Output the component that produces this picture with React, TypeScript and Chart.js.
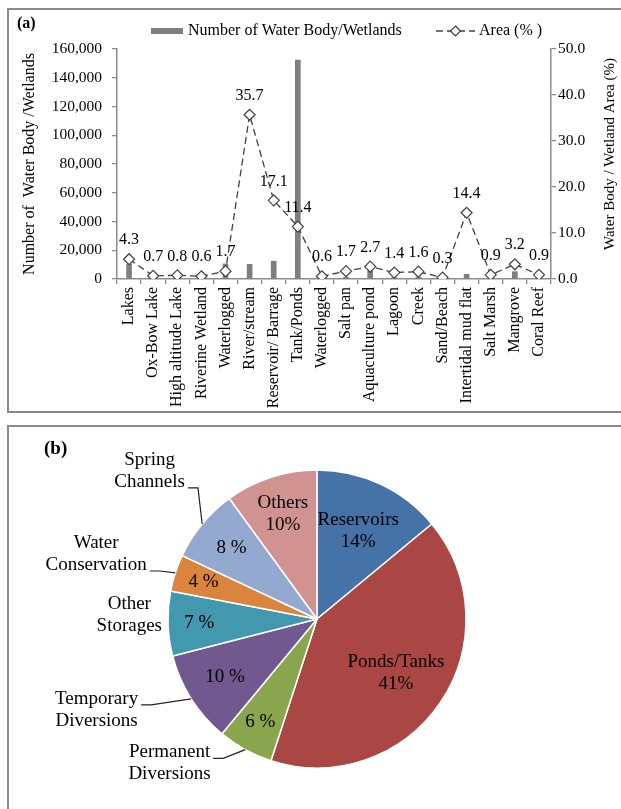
import React, { useEffect, useRef } from "react";
import { Chart, registerables } from "chart.js";

Chart.register(...registerables);

const FONT = '"Liberation Serif", "Times New Roman", serif';

// ---------- Panel (a) data ----------
const categories = [
  "Lakes",
  "Ox-Bow Lake",
  "High altitude Lake",
  "Riverine Wetland",
  "Waterlogged",
  "River/stream",
  "Reservoir/ Barrage",
  "Tank/Ponds",
  "Waterlogged",
  "Salt pan",
  "Aquaculture pond",
  "Lagoon",
  "Creek",
  "Sand/Beach",
  "Intertidal mud flat",
  "Salt Marsh",
  "Mangrove",
  "Coral Reef",
];
const waterBodyCounts = [
  10200, 2000, 1000, 1500, 10500, 10200, 12400, 152300, 2500, 1200, 8000, 1000,
  1300, 300, 3300, 500, 5100, 300,
];
const areaPercent = [
  4.3, 0.7, 0.8, 0.6, 1.7, 35.7, 17.1, 11.4, 0.6, 1.7, 2.7, 1.4, 1.6, 0.3, 14.4,
  0.9, 3.2, 0.9,
];
const countAxisMax = 160000;
const countAxisStep = 20000;
const areaAxisMax = 50;
const areaAxisStep = 10;
const barLegend = "Number of Water Body/Wetlands";
const lineLegend = "Area (% )";
const leftAxisTitle = "Number of  Water Body /Wetlands";
const rightAxisTitle = "Water Body / Wetland Area (%)";

// ---------- Panel (b) data ----------
const pieLabels = [
  "Reservoirs",
  "Ponds/Tanks",
  "Permanent Diversions",
  "Temporary Diversions",
  "Other Storages",
  "Water Conservation",
  "Spring Channels",
  "Others",
];
const pieShares = [14, 41, 6, 10, 7, 4, 8, 10];
const pieColors = [
  "#4572A7",
  "#AA4643",
  "#89A54E",
  "#71588F",
  "#4198AF",
  "#DB843D",
  "#93A9CF",
  "#D19392",
];

// label placement (style): inner = fraction of radius for value text,
// outside label: angle (deg clockwise from 12 o'clock) & distance (x radius)
const piePlacement = [
  { inner: 0.65 },
  { inner: 0.64 },
  { inner: 0.79, out: { ang: 225.6, dist: 1.385, leaderLine: 0 } },
  { inner: 0.73, out: { ang: 247.6, dist: 1.6, leaderLine: 0 } },
  { inner: 0.79, out: { ang: 271.2, dist: 1.26, leaderLine: -1 } },
  { inner: 0.8, out: { ang: 286.4, dist: 1.545, leaderLine: 1 } },
  { inner: 0.745, out: { ang: 311.5, dist: 1.5, leaderLine: 1 } },
  { inner: 0.74 },
];

const AXIS_GRAY = "#8c8c8c";
const LINE_GRAY = "#404040";
const BAR_GRAY = "#7f7f7f";

const panelAPlugin = {
  id: "panelA",
  afterDraw(chart: any) {
    const { ctx, chartArea } = chart;
    ctx.save();
    // value labels above line points
    const meta = chart.getDatasetMeta(1);
    ctx.font = `16px ${FONT}`;
    ctx.fillStyle = "#000";
    ctx.textAlign = "center";
    ctx.textBaseline = "middle";
    meta.data.forEach((pt: any, i: number) => {
      ctx.fillText(areaPercent[i].toFixed(1), pt.x, pt.y - 19);
    });

    // axis titles
    const midY = (chartArea.top + chartArea.bottom) / 2;
    ctx.save();
    ctx.translate(20, midY);
    ctx.rotate(-Math.PI / 2);
    ctx.font = `16px ${FONT}`;
    ctx.fillText(leftAxisTitle, 0, 0);
    ctx.restore();

    ctx.save();
    ctx.translate(chartArea.right + 59, midY - 10);
    ctx.rotate(-Math.PI / 2);
    ctx.font = `15px ${FONT}`;
    ctx.fillText(rightAxisTitle, 0, 0);
    ctx.restore();

    // legend
    const ly = chartArea.top - 18;
    const lx = chartArea.left + 34;
    ctx.fillStyle = BAR_GRAY;
    ctx.fillRect(lx, ly - 3, 32, 6);
    ctx.fillStyle = "#000";
    ctx.textAlign = "left";
    ctx.font = `16px ${FONT}`;
    ctx.fillText(barLegend, lx + 37, ly);
    const l2 = lx + 285;
    ctx.strokeStyle = LINE_GRAY;
    ctx.lineWidth = 1.3;
    ctx.setLineDash([7, 4]);
    ctx.beginPath();
    ctx.moveTo(l2, ly);
    ctx.lineTo(l2 + 39, ly);
    ctx.stroke();
    ctx.setLineDash([]);
    const dx = l2 + 19.5;
    ctx.beginPath();
    ctx.moveTo(dx, ly - 5);
    ctx.lineTo(dx + 5, ly);
    ctx.lineTo(dx, ly + 5);
    ctx.lineTo(dx - 5, ly);
    ctx.closePath();
    ctx.fillStyle = "#fff";
    ctx.fill();
    ctx.lineWidth = 1.2;
    ctx.stroke();
    ctx.fillStyle = "#000";
    ctx.fillText(lineLegend, l2 + 43, ly);
    ctx.restore();
  },
};

const panelBPlugin = {
  id: "panelB",
  afterDraw(chart: any) {
    const { ctx } = chart;
    const meta = chart.getDatasetMeta(0);
    ctx.save();
    ctx.font = `19px ${FONT}`;
    ctx.fillStyle = "#000";
    ctx.textAlign = "center";
    ctx.textBaseline = "middle";
    const LH = 22;
    meta.data.forEach((arc: any, i: number) => {
      const { x: cx, y: cy, startAngle, endAngle, outerRadius: r } = arc.getProps(
        ["x", "y", "startAngle", "endAngle", "outerRadius"],
        true
      );
      const mid = (startAngle + endAngle) / 2;
      const p: any = piePlacement[i];
      const ir = r * p.inner;
      const ix = cx + Math.cos(mid) * ir;
      const iy = cy + Math.sin(mid) * ir;
      if (p.out) {
        ctx.fillText(`${pieShares[i]} %`, ix, iy);
        const a = ((p.out.ang - 90) * Math.PI) / 180;
        const lx = cx + Math.cos(a) * r * p.out.dist;
        const ly = cy + Math.sin(a) * r * p.out.dist;
        const lines = pieLabels[i].split(" ");
        lines.forEach((t: string, k: number) => {
          ctx.fillText(t, lx, ly + (k - (lines.length - 1) / 2) * LH);
        });
        if (p.out.leaderLine >= 0) {
          const k = p.out.leaderLine;
          const t = lines[k];
          const w = ctx.measureText(t).width;
          const sx = lx + w / 2 + 3;
          const sy = ly + (k - (lines.length - 1) / 2) * LH + 6;
          const ex = cx + Math.cos(mid) * r;
          const ey = cy + Math.sin(mid) * r;
          ctx.strokeStyle = "#222";
          ctx.lineWidth = 1.2;
          ctx.beginPath();
          ctx.moveTo(sx, sy);
          ctx.lineTo(sx + 10, sy);
          ctx.lineTo(ex, ey);
          ctx.stroke();
        }
      } else {
        ctx.fillText(pieLabels[i], ix, iy - LH / 2);
        ctx.fillText(`${pieShares[i]}%`, ix, iy + LH / 2);
      }
    });
    ctx.restore();
  },
};

export default function App() {
  const refA = useRef<HTMLCanvasElement>(null);
  const refB = useRef<HTMLCanvasElement>(null);

  useEffect(() => {
    Chart.defaults.font.family = FONT;
    Chart.defaults.color = "#000";

    const axisGrid = {
      drawOnChartArea: false,
      drawTicks: true,
      tickLength: 5,
      color: AXIS_GRAY,
      lineWidth: 1.3,
    };
    const axisBorder = { color: AXIS_GRAY, width: 1.5 };

    const a = new Chart(refA.current as HTMLCanvasElement, {
      type: "bar",
      data: {
        labels: categories,
        datasets: [
          {
            type: "bar",
            label: barLegend,
            data: waterBodyCounts,
            backgroundColor: BAR_GRAY,
            barThickness: 5,
            yAxisID: "y",
            order: 2,
          } as any,
          {
            type: "line",
            label: lineLegend,
            data: areaPercent,
            yAxisID: "y1",
            borderColor: LINE_GRAY,
            borderWidth: 1.3,
            borderDash: [7, 4],
            pointStyle: "rectRot",
            pointRadius: 5.5,
            pointBackgroundColor: "#fff",
            pointBorderColor: LINE_GRAY,
            pointBorderWidth: 1.2,
            tension: 0,
            fill: false,
            order: 1,
          } as any,
        ],
      },
      options: {
        responsive: false,
        animation: false,
        layout: { padding: { top: 38, left: 0, right: 0, bottom: 0 } },
        plugins: { legend: { display: false }, tooltip: { enabled: false } },
        scales: {
          x: {
            offset: true,
            grid: { ...axisGrid, offset: true },
            border: axisBorder,
            ticks: {
              autoSkip: false,
              maxRotation: 90,
              minRotation: 90,
              padding: 3,
              color: "#000",
              font: { size: 16, family: FONT },
            },
            afterFit: (s: any) => {
              s.height = 132;
            },
          },
          y: {
            position: "left",
            min: 0,
            max: countAxisMax,
            ticks: {
              stepSize: countAxisStep,
              padding: 10,
              color: "#000",
              font: { size: 15.5, family: FONT },
              callback: (v: any) => Number(v).toLocaleString("en-US"),
            },
            grid: axisGrid,
            border: axisBorder,
            afterFit: (s: any) => {
              s.width = 107;
            },
          },
          y1: {
            position: "right",
            min: 0,
            max: areaAxisMax,
            ticks: {
              stepSize: areaAxisStep,
              padding: 2,
              color: "#000",
              font: { size: 15.5, family: FONT },
              callback: (v: any) => Number(v).toFixed(1),
            },
            grid: axisGrid,
            border: axisBorder,
            afterFit: (s: any) => {
              s.width = 70;
            },
          },
        },
      } as any,
      plugins: [panelAPlugin],
    });

    const b = new Chart(refB.current as HTMLCanvasElement, {
      type: "pie",
      data: {
        labels: pieLabels,
        datasets: [
          {
            data: pieShares,
            backgroundColor: pieColors,
            borderColor: "#ffffff",
            borderWidth: 1.5,
          },
        ],
      },
      options: {
        responsive: false,
        animation: false,
        radius: 149,
        layout: { padding: { left: 157, right: 154, top: 41, bottom: 40 } },
        plugins: { legend: { display: false }, tooltip: { enabled: false } },
      } as any,
      plugins: [panelBPlugin],
    });

    return () => {
      a.destroy();
      b.destroy();
    };
  }, []);

  const frame: React.CSSProperties = {
    position: "absolute",
    border: "2px solid #8a8a8a",
    boxSizing: "border-box",
  };

  return (
    <div
      style={{
        position: "fixed",
        left: 0,
        top: 0,
        width: 621,
        height: 809,
        overflow: "hidden",
        background: "#fff",
      }}
    >
      <div style={{ ...frame, left: 7, top: 8, width: 700, height: 405 }} />
      <div style={{ ...frame, left: 7, top: 425, width: 700, height: 500 }} />
      <canvas
        ref={refA}
        width={611}
        height={400}
        style={{ position: "absolute", left: 10, top: 11, width: 611, height: 400 }}
      />
      <canvas
        ref={refB}
        width={611}
        height={381}
        style={{ position: "absolute", left: 10, top: 428, width: 611, height: 381 }}
      />
      <div
        style={{
          position: "absolute",
          left: 17,
          top: 15,
          font: `bold 16px/16px ${FONT}`,
          color: "#000",
        }}
      >
        (a)
      </div>
      <div
        style={{
          position: "absolute",
          left: 44,
          top: 438,
          font: `bold 19px/19px ${FONT}`,
          color: "#000",
        }}
      >
        (b)
      </div>
    </div>
  );
}
